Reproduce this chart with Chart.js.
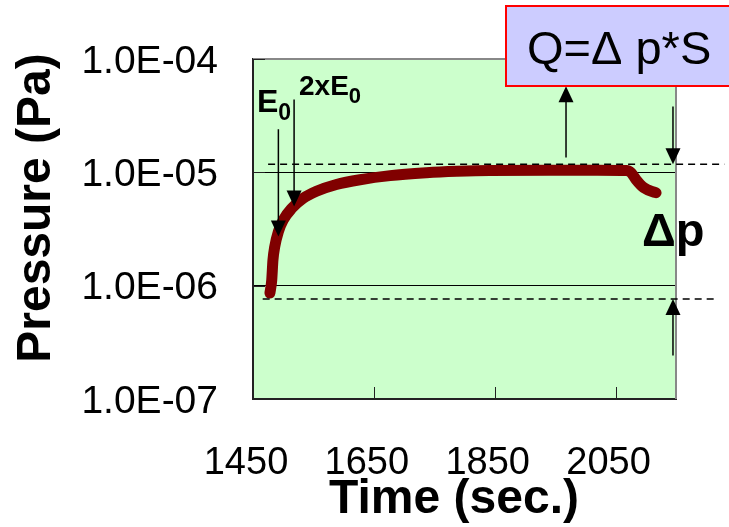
<!DOCTYPE html>
<html>
<head>
<meta charset="utf-8">
<script src="https://cdn.jsdelivr.net/npm/chart.js@4.4.1/dist/chart.umd.min.js"></script>
<style>
  html, body { margin: 0; padding: 0; background: #fff; }
  #wrap { width: 729px; height: 527px; }
</style>
</head>
<body>
<div id="wrap"><canvas id="chart" width="729" height="527"></canvas></div>
<script>
// measured pressure curve
const TIME     = [1478, 1481, 1483, 1486, 1492, 1500, 1514, 1533, 1555, 1588, 1627, 1677, 1737, 1787, 1842, 1940, 2020, 2068, 2076, 2084, 2097, 2117];
const PRESSURE = [8.6e-7, 1.12e-6, 1.68e-6, 2.21e-6, 3.0e-6, 3.8e-6, 4.8e-6, 5.9e-6, 6.8e-6, 7.8e-6, 8.6e-6, 9.35e-6, 9.9e-6, 1.02e-5, 1.04e-5, 1.045e-5, 1.045e-5, 1.04e-5, 9.9e-6, 8.6e-6, 7.3e-6, 6.6e-6];

const X_TICKS = [1450, 1650, 1850, 2050];
const X_TICK_LABELS = ['1450', '1650', '1850', '2050'];
const Y_TICKS = [1e-7, 1e-6, 1e-5, 1e-4];
const Y_TICK_LABELS = ['1.0E-07', '1.0E-06', '1.0E-05', '1.0E-04'];

const Y_TITLE = 'Pressure (Pa)';
const X_TITLE = 'Time (sec.)';
const FORMULA = 'Q=\u0394 p*S';
const DELTA_LABEL = '\u0394p';

// dashed levels (upper / lower pressure) and the arrows, in data units
const LEVEL_HIGH = { y: 1.18e-5, x0: 1475, x1: 2230 };
const LEVEL_LOW  = { y: 7.64e-7, x0: 1466, x1: 2219 };
const ARROWS = [
    { x: 1492, from: 2.4e-5,  to: 2.72e-6 },      // E0
    { x: 1518, from: 4.4e-5,  to: 5.0e-6 },       // 2xE0
    { x: 1968, from: 1.35e-5, to: 5.75e-5 },      // up to formula box
    { x: 2145, from: 3.8e-5,  to: LEVEL_HIGH.y },
    { x: 2145, from: 2.42e-7, to: LEVEL_LOW.y }
];

const FONT = '"Liberation Sans", Arial, sans-serif';

function arrow(ctx, x, y0, y1) {
    const dir = y1 > y0 ? 1 : -1;
    ctx.beginPath();
    ctx.moveTo(x, y0);
    ctx.lineTo(x, y1 - dir * 10);
    ctx.stroke();
    ctx.beginPath();
    ctx.moveTo(x, y1);
    ctx.lineTo(x - 7.5, y1 - dir * 16);
    ctx.lineTo(x + 7.5, y1 - dir * 16);
    ctx.closePath();
    ctx.fill();
}

function subText(ctx, x, y, main, sub, size, subSize) {
    ctx.font = `bold ${size}px ${FONT}`;
    ctx.fillText(main, x, y);
    const w = ctx.measureText(main).width;
    ctx.font = `bold ${subSize}px ${FONT}`;
    ctx.fillText(sub, x + w, y + 8);
}

const decorations = {
    id: 'decorations',
    beforeDraw(chart) {
        const { ctx, chartArea: a } = chart;
        ctx.save();
        ctx.fillStyle = '#CCFFCC';
        ctx.fillRect(a.left, a.top, a.right - a.left, a.bottom - a.top);
        ctx.restore();
    },
    afterDraw(chart) {
        const { ctx, chartArea: a } = chart;
        const xs = chart.scales.x, ys = chart.scales.y;
        ctx.save();

        // top and right frame
        ctx.strokeStyle = '#888';
        ctx.lineWidth = 2;
        ctx.beginPath();
        ctx.moveTo(a.left, a.top);
        ctx.lineTo(a.right, a.top);
        ctx.lineTo(a.right, a.bottom);
        ctx.stroke();

        // inner tick marks
        ctx.strokeStyle = '#222';
        ctx.lineWidth = 1;
        ctx.beginPath();
        X_TICKS.slice(1).forEach(v => {
            const px = Math.round(xs.getPixelForValue(v)) + 0.5;
            ctx.moveTo(px, a.bottom);
            ctx.lineTo(px, a.bottom - 12);
        });
        Y_TICKS.forEach(v => {
            const py = Math.round(ys.getPixelForValue(v)) + 0.5;
            ctx.moveTo(a.left, py);
            ctx.lineTo(a.left + 12, py);
        });
        ctx.stroke();

        // dashed levels
        ctx.strokeStyle = '#000';
        ctx.lineWidth = 1.5;
        ctx.setLineDash([7, 5]);
        [LEVEL_HIGH, LEVEL_LOW].forEach(l => {
            const py = ys.getPixelForValue(l.y);
            ctx.beginPath();
            ctx.moveTo(xs.getPixelForValue(l.x0), py);
            ctx.lineTo(xs.getPixelForValue(l.x1), py);
            ctx.stroke();
        });
        ctx.setLineDash([]);

        // arrows
        ctx.fillStyle = '#000';
        ARROWS.forEach(ar => {
            arrow(ctx, xs.getPixelForValue(ar.x), ys.getPixelForValue(ar.from), ys.getPixelForValue(ar.to));
        });

        // E0 / 2xE0 labels
        ctx.textAlign = 'left';
        ctx.textBaseline = 'alphabetic';
        subText(ctx, 257, 112, 'E', '0', 32, 23);
        subText(ctx, 299, 95, '2xE', '0', 28, 22);

        // formula box
        ctx.fillStyle = '#CCCCFF';
        ctx.fillRect(506, 6, 240, 80);
        ctx.strokeStyle = '#FF0000';
        ctx.lineWidth = 2;
        ctx.strokeRect(506, 6, 240, 80);
        ctx.fillStyle = '#000';
        ctx.font = `47px ${FONT}`;
        ctx.fillText(FORMULA, 527, 64);

        // delta p
        ctx.font = `bold 47px ${FONT}`;
        ctx.fillText(DELTA_LABEL, 642, 246);

        // axis titles
        ctx.font = `bold 48px ${FONT}`;
        ctx.textAlign = 'center';
        ctx.fillText(X_TITLE, 454, 513);
        ctx.translate(50, 208);
        ctx.rotate(-Math.PI / 2);
        ctx.fillText(Y_TITLE, 0, 0);

        ctx.restore();
    }
};

new Chart(document.getElementById('chart').getContext('2d'), {
    type: 'line',
    data: {
        datasets: [{
            data: TIME.map((t, i) => ({ x: t, y: PRESSURE[i] })),
            borderColor: '#800000',
            borderWidth: 11,
            borderCapStyle: 'round',
            borderJoinStyle: 'round',
            cubicInterpolationMode: 'monotone',
            pointRadius: 0,
            fill: false
        }]
    },
    options: {
        responsive: false,
        animation: false,
        layout: { padding: { left: 0, top: 59, right: 53, bottom: 0 } },
        plugins: { legend: { display: false }, tooltip: { enabled: false } },
        scales: {
            x: {
                type: 'linear',
                min: 1450,
                max: 2150,
                afterBuildTicks: s => { s.ticks = X_TICKS.map(v => ({ value: v })); },
                afterFit: s => { s.height = 128; },
                grid: { display: false, drawTicks: false },
                border: { display: true, color: '#222', width: 2 },
                ticks: {
                    padding: 42,
                    labelOffset: -7,
                    maxRotation: 0,
                    autoSkip: false,
                    color: '#000',
                    font: { family: FONT, size: 38 },
                    callback: v => X_TICK_LABELS[X_TICKS.indexOf(v)]
                }
            },
            y: {
                type: 'logarithmic',
                min: 1e-7,
                max: 1e-4,
                afterBuildTicks: s => { s.ticks = Y_TICKS.map(v => ({ value: v })); },
                afterFit: s => { s.width = 253; },
                grid: { color: '#000', lineWidth: 1, drawTicks: false },
                border: { display: true, color: '#222', width: 2 },
                ticks: {
                    padding: 35,
                    labelOffset: 3,
                    autoSkip: false,
                    color: '#000',
                    font: { family: FONT, size: 39 },
                    callback: v => Y_TICK_LABELS[Y_TICKS.indexOf(v)]
                }
            }
        }
    },
    plugins: [decorations]
});
</script>
</body>
</html>
